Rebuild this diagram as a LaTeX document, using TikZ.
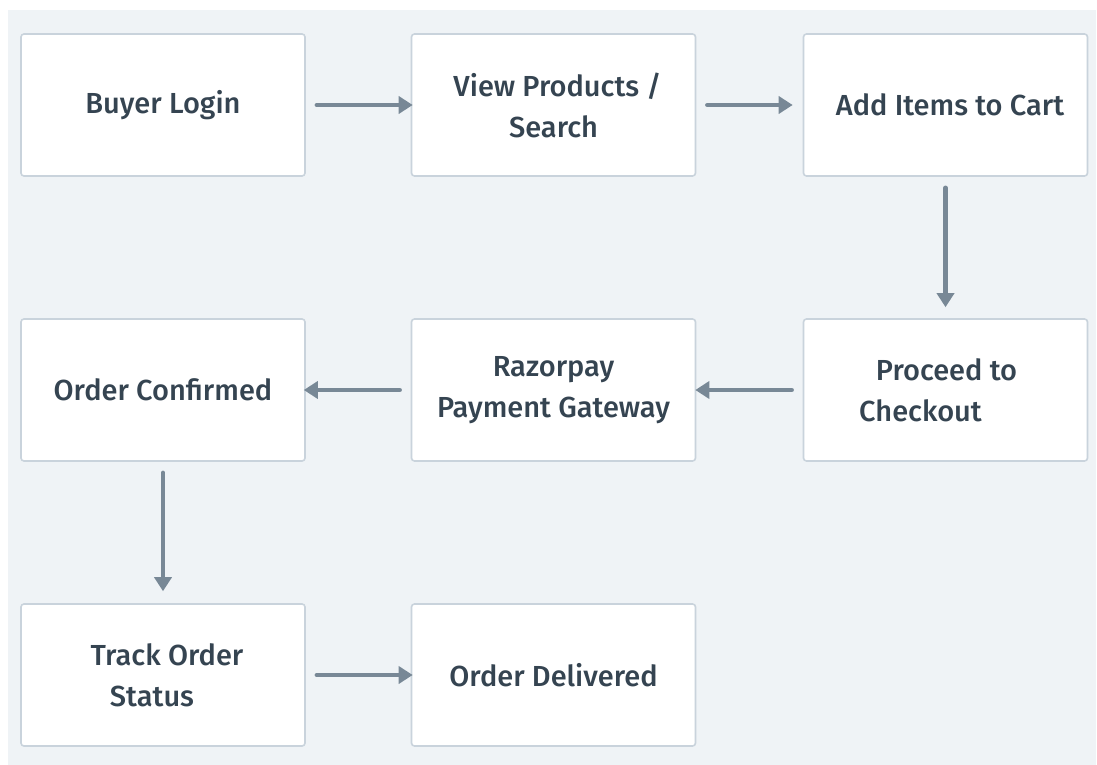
\documentclass[tikz,border=0pt]{standalone}
\usepackage{fontspec}
\setmainfont{Fira Sans Medium}
\usetikzlibrary{arrows.meta, calc}

\definecolor{canvas}{HTML}{EFF3F6}
\definecolor{edgegray}{HTML}{C9D3DC}
\definecolor{inkblue}{HTML}{354451}
\definecolor{flowgray}{HTML}{788896}

\tikzset{
    stepbox/.style={draw=edgegray, fill=white, line width=1.6pt, rounded corners=3pt,
        minimum width=284, minimum height=142, inner sep=0pt, align=center,
        text=inkblue, font=\fontsize{29}{41}\selectfont},
    flow/.style={draw=flowgray, line width=4.5pt, line cap=round,
        -{Triangle[length=14pt, width=17pt]}, shorten <=11pt}
}

\begin{document}
\begin{tikzpicture}[x=1pt, y=-1pt]
        \useasboundingbox (0,0) rectangle (1097,765);
        \fill[canvas] (8,10) rectangle (1096,765);

        % first row
        \node[stepbox] (login) at (163,105) {Buyer Login};
        \node[stepbox] (browse) at (553.5,105) {\hspace*{8pt}View Products /\\Search};
        \node[stepbox] (cart) at (945.5,105) {\hspace*{9pt}Add Items to Cart};

        % second row
        \node[stepbox] (checkout) at (945.5,390) {\hspace*{2pt}Proceed to\\Checkout\hspace*{50pt}};
        \node[stepbox] (gateway) at (553.5,390) {Razorpay\\Payment Gateway};
        \node[stepbox] (confirmed) at (163,390) {Order Confirmed};

        % third row
        \node[stepbox] (track) at (163,675) {\hspace*{8pt}Track Order\\Status\hspace*{22pt}};
        \node[stepbox] (delivered) at (553.5,675) {Order Delivered};

        \draw[flow, shorten >=-2pt] (login) -- (browse);
        \draw[flow, shorten >=10pt] (browse) -- (cart);
        \draw[flow, shorten >=11pt] (cart.south) -- (checkout.north);
        \draw[flow, shorten >=-1pt] (checkout) -- (gateway);
        \draw[flow, shorten >=-2pt] (gateway) -- (confirmed);
        \draw[flow, shorten >=12pt] (confirmed.south) -- (track.north);
        \draw[flow, shorten >=-2pt] (track) -- (delivered);
    \end{tikzpicture}
\end{document}
